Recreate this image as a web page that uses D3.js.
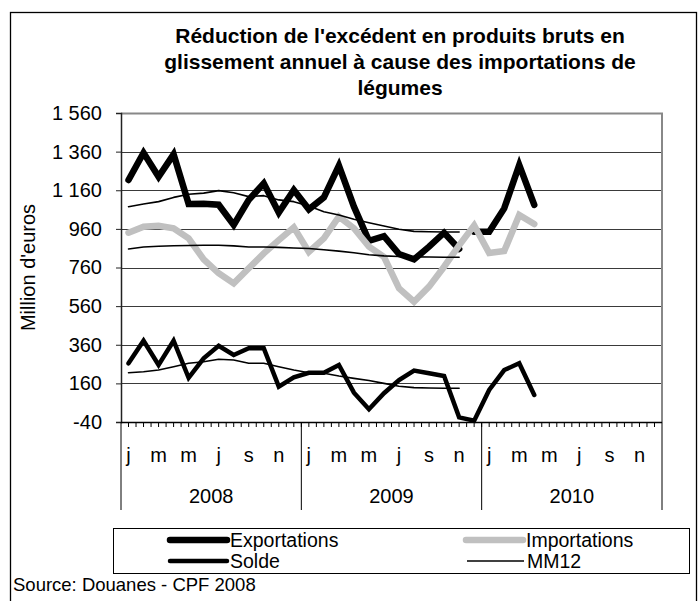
<!DOCTYPE html>
<html><head><meta charset="utf-8">
<script src="https://cdn.jsdelivr.net/npm/d3@7"></script>
<style>
body{margin:0;background:#fff;}
svg{display:block;font-family:"Liberation Sans",Arial,Helvetica,sans-serif;}
</style>
</head><body>
<svg id="chart" width="698" height="601"></svg>
<script>
// ---------- data ----------
const titleLines = [
  "Réduction de l'excédent en produits bruts en",
  "glissement annuel à cause des importations de",
  "légumes"
];
const yAxisTitle = "Million d'euros";
const years = ["2008", "2009", "2010"];
const monthLetters = ["j","f","m","a","m","j","j","a","s","o","n","d"];
const labelledMonths = [0, 2, 4, 6, 8, 10];
const yTicks = [-40, 160, 360, 560, 760, 960, 1160, 1360, 1560];
const sourceText = "Source: Douanes - CPF 2008";
const legendNames = ["Exportations", "Importations", "Solde", "MM12"];

// monthly values, Jan 2008 -> Apr 2010
const exportations = [1213, 1354, 1230, 1346, 1089, 1090, 1085, 980, 1110, 1196, 1044, 1161,
                      1061, 1123, 1287, 1075, 898, 922, 830, 802, 868, 940, 856, 945,
                      945, 1066, 1291, 1084];
const exportSegmentStarts = [0, 23];   // the exports line is broken before Dec 2009
const importations = [940, 971, 976, 963, 911, 802, 730, 678, 756, 833, 902, 968,
                      841, 911, 1023, 963, 868, 815, 652, 583, 661, 764, 875, 978,
                      835, 845, 1032, 985];
const solde = [264, 381, 255, 381, 189, 290, 355, 307, 342, 342, 143, 191,
               215, 215, 255, 112, 26, 109, 177, 226, 212, 198, -16, -33,
               126, 229, 264, 100];
// 12-month moving averages, Jan 2008 -> Nov 2009
const mm12Exportations = [1075, 1089, 1101, 1123, 1139, 1145, 1158, 1147, 1127, 1132, 1110, 1101,
                          1078, 1049, 1032, 1010, 992, 975, 958, 947, 945, 944, 944];
const mm12Importations = [856, 866, 870, 873, 874, 875, 875, 872, 866, 866, 864, 861,
                          858, 852, 845, 836, 826, 820, 817, 815, 814, 813, 813];
const mm12Solde = [215, 220, 229, 246, 264, 272, 285, 281, 264, 264, 246, 229,
                   215, 212, 198, 186, 175, 160, 145, 138, 136, 135, 135];

// ---------- layout ----------
const svg = d3.select("#chart");
const plot = {left: 121, right: 662, top: 113, bottom: 422};
const nMonths = years.length * 12;
const x = d3.scaleLinear().domain([0, nMonths]).range([plot.left, plot.right]);
const y = d3.scaleLinear().domain([-40, 1560]).range([plot.bottom, plot.top]);
const fr = d3.formatLocale({decimal: ",", thousands: " ", grouping: [3], currency: ["", " €"], minus: "-"});
const fmt = fr.format(",d");

// outer frame
svg.append("rect").attr("x", 10.5).attr("y", 12.5).attr("width", 686).attr("height", 620)
  .attr("fill", "#fff").attr("stroke", "#000").attr("stroke-width", 1.3);

// title
svg.append("g").selectAll("text").data(titleLines).join("text")
  .attr("x", 400).attr("y", (d, i) => 43 + i * 26)
  .attr("text-anchor", "middle").attr("font-weight", "bold").attr("font-size", 21)
  .attr("fill", "#000").text(d => d);

// gridlines
svg.append("g").selectAll("line").data(yTicks.filter(v => v > -40 && v < 1560)).join("line")
  .attr("x1", plot.left).attr("x2", plot.right)
  .attr("y1", d => Math.round(y(d)) + 0.5).attr("y2", d => Math.round(y(d)) + 0.5)
  .attr("stroke", "#3a3a3a").attr("stroke-width", 1);

// plot border top/right (gray)
svg.append("path")
  .attr("d", `M${plot.left},${plot.top + 0.5}H${plot.right}V${plot.bottom}`)
  .attr("fill", "none").attr("stroke", "#888").attr("stroke-width", 2);

// ---------- series ----------
const lineGen = offset => d3.line().x((d, i) => x(offset + i + 0.5)).y(d => y(d));
const g = svg.append("g");

function drawSeries(values, offset, color, width, join) {
  g.append("path").datum(values).attr("d", lineGen(offset))
    .attr("fill", "none").attr("stroke", color).attr("stroke-width", width)
    .attr("stroke-linejoin", join).attr("stroke-linecap", "round");
}
// exportations (broken into segments)
exportSegmentStarts.forEach((s, k) => {
  const e = k + 1 < exportSegmentStarts.length ? exportSegmentStarts[k + 1] : exportations.length;
  drawSeries(exportations.slice(s, e), s, "#000", 6.5, "miter");
});
drawSeries(importations, 0, "#c0c0c0", 6.5, "miter");
drawSeries(solde, 0, "#000", 4.5, "miter");
[mm12Exportations, mm12Importations, mm12Solde].forEach(s => drawSeries(s, 0, "#000", 1.6, "round"));

// ---------- axes ----------
const yAxis = d3.axisLeft(y).tickValues(yTicks).tickFormat(fmt).tickSize(5).tickPadding(14);
const ya = svg.append("g").attr("transform", `translate(${plot.left},0)`).call(yAxis);
ya.select(".domain").attr("stroke", "#222").attr("stroke-width", 1.5);
ya.selectAll(".tick line").attr("stroke", "#222");
ya.selectAll(".tick text").attr("font-size", 20).attr("fill", "#000")
  .attr("font-family", "Liberation Sans, Arial, sans-serif");

// y axis title
svg.append("text").attr("transform", `translate(35,${(plot.top + plot.bottom) / 2}) rotate(-90)`)
  .attr("text-anchor", "middle").attr("font-size", 20).attr("fill", "#000").text(yAxisTitle);

// x axis line
svg.append("line").attr("x1", plot.left).attr("x2", plot.right)
  .attr("y1", plot.bottom + 0.5).attr("y2", plot.bottom + 0.5)
  .attr("stroke", "#000").attr("stroke-width", 1.5);
// minor ticks every half month
svg.append("g").selectAll("line").data(d3.range(1, nMonths * 2)).join("line")
  .attr("x1", d => x(d / 2)).attr("x2", d => x(d / 2))
  .attr("y1", plot.bottom).attr("y2", plot.bottom + 5)
  .attr("stroke", "#000").attr("stroke-width", 1);
// year separators
svg.append("g").selectAll("line").data(d3.range(0, years.length + 1)).join("line")
  .attr("x1", d => x(d * 12)).attr("x2", d => x(d * 12))
  .attr("y1", plot.bottom).attr("y2", 510)
  .attr("stroke", "#000").attr("stroke-width", 1);
// month letters
const monthLabelData = [];
years.forEach((yr, yi) => labelledMonths.forEach(m => monthLabelData.push({i: yi * 12 + m, t: monthLetters[m]})));
svg.append("g").selectAll("text").data(monthLabelData).join("text")
  .attr("x", d => x(d.i + 0.5)).attr("y", 462).attr("text-anchor", "middle")
  .attr("font-size", 20).attr("fill", "#000").text(d => d.t);
// year labels
svg.append("g").selectAll("text").data(years).join("text")
  .attr("x", (d, i) => x(i * 12 + 6)).attr("y", 503).attr("text-anchor", "middle")
  .attr("font-size", 20).attr("fill", "#000").text(d => d);

// ---------- legend ----------
const lg = svg.append("g");
lg.append("rect").attr("x", 113.5).attr("y", 528.5).attr("width", 576).attr("height", 45)
  .attr("fill", "#fff").attr("stroke", "#000").attr("stroke-width", 1);
const legendItems = [
  {name: legendNames[0], color: "#000", w: 6.5, x: 170, y: 540},
  {name: legendNames[1], color: "#c0c0c0", w: 6.5, x: 466, y: 540},
  {name: legendNames[2], color: "#000", w: 4.5, x: 170, y: 561},
  {name: legendNames[3], color: "#000", w: 1.6, x: 467, y: 561}
];
legendItems.forEach(it => {
  lg.append("line").attr("x1", it.x).attr("x2", it.x + 57).attr("y1", it.y).attr("y2", it.y)
    .attr("stroke", it.color).attr("stroke-width", it.w).attr("stroke-linecap", it.w > 2 ? "round" : "butt");
  lg.append("text").attr("x", it.x + 60).attr("y", it.y + 7).attr("font-size", 19.5)
    .attr("fill", "#000").text(it.name);
});

// source
svg.append("text").attr("x", 13).attr("y", 591).attr("font-size", 18.5).attr("fill", "#000").text(sourceText);
</script>
</body></html>
